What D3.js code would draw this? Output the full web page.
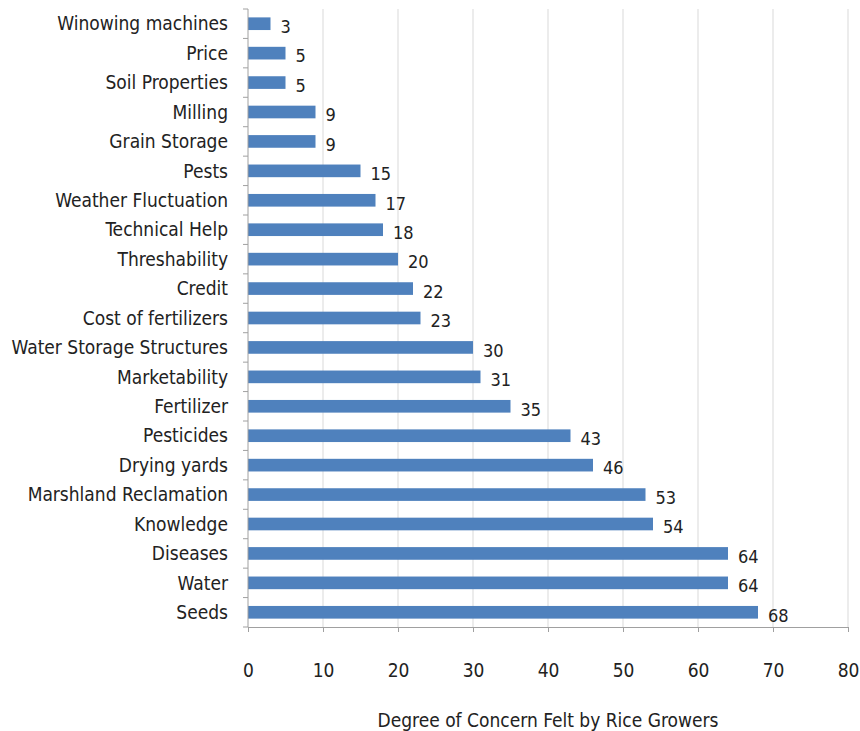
<!DOCTYPE html>
<html>
<head>
<meta charset="utf-8">
<script src="https://cdn.jsdelivr.net/npm/d3@7"></script>
<style>
  body { margin: 0; background: #fff; }
  text { font-family: "Liberation Sans Narrow", "DejaVu Sans Condensed", sans-serif; fill: #222; }
</style>
</head>
<body>
<svg id="chart" width="860" height="731"></svg>
<script>
// Categories, top to bottom
const categories = [
  "Winowing machines", "Price", "Soil Properties", "Milling", "Grain Storage",
  "Pests", "Weather Fluctuation", "Technical Help", "Threshability", "Credit",
  "Cost of fertilizers", "Water Storage Structures", "Marketability", "Fertilizer",
  "Pesticides", "Drying yards", "Marshland Reclamation", "Knowledge", "Diseases",
  "Water", "Seeds"
];
const values = [3, 5, 5, 9, 9, 15, 17, 18, 20, 22, 23, 30, 31, 35, 43, 46, 53, 54, 64, 64, 68];
const xTicks = [0, 10, 20, 30, 40, 50, 60, 70, 80];

const BAR_COLOR = "#4f81bd";
const AXIS_COLOR = "#a0a0a0";
const GRID_COLOR = "#d9d9d9";

const margin = { top: 9, right: 12, bottom: 104, left: 248 };
const width = 860, height = 731;

const svg = d3.select("#chart");

const x = d3.scaleLinear()
    .domain([0, 80])
    .range([margin.left, width - margin.right]);

const y = d3.scaleBand()
    .domain(categories)
    .range([margin.top, height - margin.bottom])
    .paddingInner(0.57)
    .paddingOuter(0.285);

// gridlines
svg.append("g")
    .selectAll("line")
    .data(xTicks.slice(1))
    .join("line")
    .attr("x1", d => x(d)).attr("x2", d => x(d))
    .attr("y1", margin.top).attr("y2", height - margin.bottom)
    .attr("stroke", GRID_COLOR);

// bars
svg.append("g")
    .selectAll("rect")
    .data(values)
    .join("rect")
    .attr("x", x(0))
    .attr("y", (d, i) => y(categories[i]))
    .attr("width", d => x(d) - x(0))
    .attr("height", y.bandwidth())
    .attr("fill", BAR_COLOR);

// value labels
svg.append("g")
    .selectAll("text")
    .data(values)
    .join("text")
    .attr("x", d => x(d) + 10)
    .attr("y", (d, i) => y(categories[i]) + y.bandwidth() / 2 + 3)
    .attr("dy", "0.35em")
    .attr("font-size", 18)
    .text(d => d);

// left axis
const yAxis = svg.append("g")
    .attr("transform", `translate(${x(0)},0)`);
yAxis.append("line")
    .attr("y1", margin.top).attr("y2", height - margin.bottom)
    .attr("stroke", AXIS_COLOR);
const step = y.step();
yAxis.selectAll(".tk")
    .data(d3.range(categories.length + 1))
    .join("line")
    .attr("class", "tk")
    .attr("x1", -5).attr("x2", 0)
    .attr("y1", i => margin.top + i * step)
    .attr("y2", i => margin.top + i * step)
    .attr("stroke", AXIS_COLOR);
yAxis.selectAll("text")
    .data(categories)
    .join("text")
    .attr("x", -20)
    .attr("y", d => y(d) + y.bandwidth() / 2)
    .attr("dy", "0.35em")
    .attr("text-anchor", "end")
    .attr("font-size", 19)
    .text(d => d);

// bottom axis
const xAxis = svg.append("g")
    .attr("transform", `translate(0,${height - margin.bottom})`)
    .call(d3.axisBottom(x).tickValues(xTicks).tickSize(5).tickPadding(32));
xAxis.select(".domain").attr("stroke", AXIS_COLOR);
xAxis.selectAll(".tick line").attr("stroke", AXIS_COLOR);
xAxis.selectAll(".tick text")
    .attr("font-size", 19)
    .attr("font-family", "Liberation Sans Narrow, DejaVu Sans Condensed, sans-serif")
    .attr("fill", "#222");

// axis title
svg.append("text")
    .attr("x", 548)
    .attr("y", 727)
    .attr("text-anchor", "middle")
    .attr("font-size", 19)
    .text("Degree of Concern Felt by Rice Growers");
</script>
</body>
</html>
